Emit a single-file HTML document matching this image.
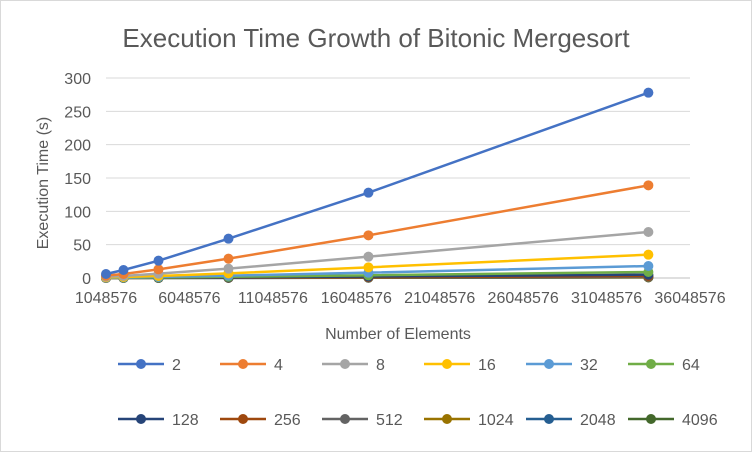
<!DOCTYPE html>
<html><head><meta charset="utf-8"><style>
body{margin:0;background:#fff;font-family:"Liberation Sans",Arial,sans-serif}
svg text{font-family:"Liberation Sans",Arial,sans-serif;fill:#595959}
</style></head><body>
<svg id="c" width="752" height="452">
<rect x="0.5" y="0.5" width="751" height="451" fill="#fff" stroke="#d9d9d9"/>
<text x="376" y="47" font-size="26" text-anchor="middle">Execution Time Growth of Bitonic Mergesort</text>
<text x="398" y="339" font-size="16" text-anchor="middle">Number of Elements</text>
<text transform="translate(48,183) rotate(-90)" font-size="16" text-anchor="middle">Execution Time (s)</text>
<g id="grid"></g><g id="ticks"></g><g id="series"></g><g id="legend"></g>
</svg>
<script>
const xValues=[1048576,2097152,4194304,8388608,16777216,33554432];
const seriesNames=["2","4","8","16","32","64","128","256","512","1024","2048","4096"];
const seriesColors=["#4472c4","#ed7d31","#a5a5a5","#ffc000","#5b9bd5","#70ad47","#264478","#9e480e","#636363","#997300","#255e91","#43682b"];
const seriesValues=[
[6,12,26,59,128,278],
[3.5,6,13,29,64,139],
[2,3,6.5,14,32,69],
[1,1.5,3,7,16,35],
[0.5,0.8,1.6,3.5,8,18],
[0.3,0.4,0.8,1.8,4,9],
[0.2,0.3,0.5,1,2.3,5],
[0.1,0.2,0.3,0.6,1.3,3],
[0.1,0.1,0.2,0.4,0.8,1.8],
[0.1,0.1,0.1,0.3,0.6,1.2],
[0.1,0.1,0.1,0.2,0.5,1],
[0.1,0.1,0.1,0.2,0.4,0.9]];
const yTicks=[0,50,100,150,200,250,300];
const xTicks=[1048576,6048576,11048576,16048576,21048576,26048576,31048576,36048576];
const NS="http://www.w3.org/2000/svg";
const X0=106,X1=690,Y0=278,Y1=78;
function sx(v){return X0+(v-1048576)/35000000*(X1-X0);}
function sy(v){return Y0-v/300*(Y0-Y1);}
function mk(t,a,p){const e=document.createElementNS(NS,t);for(const k in a)e.setAttribute(k,a[k]);p.appendChild(e);return e;}
const g=document.getElementById('grid'),tk=document.getElementById('ticks'),s=document.getElementById('series'),lg=document.getElementById('legend');
yTicks.forEach(v=>{
 const l=mk('line',{x1:X0,x2:X1,y1:sy(v),y2:sy(v),stroke:v===0?'#bfbfbf':'#d9d9d9'},g);
 
 
 const t=mk('text',{x:X0-15,y:sy(v)+6,'font-size':16,'text-anchor':'end'},tk);t.textContent=v;
 
 
});
xTicks.forEach(v=>{
 const t=mk('text',{x:sx(v),y:303,'font-size':16,'text-anchor':'middle'},tk);t.textContent=v;
 
 
});
for(let i=seriesNames.length-1;i>=0;i--){
 const gg=mk('g',{},s);
 
 
 const pts=xValues.map((x,j)=>sx(x)+','+sy(seriesValues[i][j])).join(' ');
 mk('polyline',{points:pts,fill:'none',stroke:seriesColors[i],'stroke-width':2.5},gg);
 xValues.forEach((x,j)=>{
  const c=mk('circle',{cx:sx(x),cy:sy(seriesValues[i][j]),r:5,fill:seriesColors[i]},gg);
  
  
 });
}
seriesNames.forEach((n,i)=>{
 const col=i%6,row=Math.floor(i/6);
 const x=118+col*102,y=364+row*55;
 const e=mk('g',{},lg);
 
 
 mk('line',{x1:x,x2:x+46,y1:y,y2:y,stroke:seriesColors[i],'stroke-width':2.5},e);
 mk('circle',{cx:x+23,cy:y,r:5,fill:seriesColors[i]},e);
 const t=mk('text',{x:x+54,y:y+6,'font-size':16},e);t.textContent=n;
});
</script>
</body></html>
